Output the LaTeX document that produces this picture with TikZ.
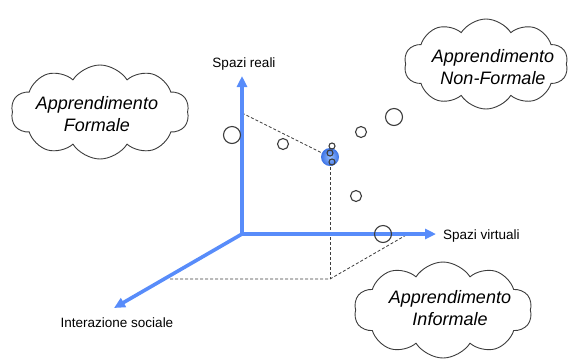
\documentclass[tikz,border=0pt]{standalone}
\usepackage{fontspec}
\setmainfont{Liberation Sans}
\usetikzlibrary{shapes.symbols,arrows.meta}
\definecolor{axisblue}{RGB}{88,140,250}
\definecolor{ballblue}{RGB}{60,115,230}
\definecolor{balllight}{RGB}{150,190,255}
\definecolor{linegray}{RGB}{60,60,60}
\tikzset{
  axis/.style={draw=axisblue,line width=3.6pt,-{Triangle[length=11pt,width=10pt]}},
  guide/.style={draw=linegray,line width=0.8pt,dash pattern=on 3pt off 2pt},
  bubble/.style={draw=linegray,line width=1.1pt,fill=white},
  thought/.style={cloud,draw=linegray,line width=0.9pt,fill=white,cloud puffs=10,cloud puff arc=115,
    cloud ignores aspect,align=center,inner sep=0pt},
  cloudtext/.style={font=\fontsize{18}{22}\selectfont\itshape,align=center},
  axlabel/.style={font=\fontsize{13.5}{16}\selectfont,inner sep=0pt}
}
\begin{document}
\begin{tikzpicture}[x=1pt,y=-1pt]
\useasboundingbox (0,0) rectangle (569,360);
% clouds
\node[thought,minimum width=178pt,minimum height=94pt] (formale) at (100,112) {};
\node[cloudtext] (tformale) at (97,114) {Apprendimento\\Formale};
\node[thought,minimum width=164pt,minimum height=90pt] (nonformale) at (486,64) {};
\node[cloudtext] (tnonformale) at (493,67) {Apprendimento\\Non-Formale};
\node[thought,minimum width=178pt,minimum height=96pt] (informale) at (443,310) {};
\node[cloudtext] (tinformale) at (450,308) {Apprendimento\\Informale};
% axes coordinates
\coordinate (O) at (242,234);
\coordinate (Y) at (242,76);
\coordinate (X) at (436,234);
\coordinate (Z) at (114,308);
\coordinate (P) at (330,157);
\coordinate (Py) at (242,113);
\coordinate (Pb) at (330,279);
\coordinate (Pz) at (170,279);
\coordinate (Px) at (408,234);
% guides
\draw[guide] (Py) -- (P);
\draw[guide] (P) -- (Pb);
\draw[guide] (Pz) -- (Pb) -- (Px);
% axes
\draw[axis] (O) -- (Y);
\draw[axis] (O) -- (X);
\draw[axis] (O) -- (Z);
% axis labels
\node[axlabel] (ly) at (244,64) {Spazi reali};
\node[axlabel,anchor=west] (lx) at (443,236) {Spazi virtuali};
\node[axlabel] (lz) at (117,323) {Interazione sociale};
% bubbles
\node[bubble,circle,minimum size=17pt,inner sep=0pt] (c1) at (232,135) {};
\node[bubble,circle,minimum size=11pt,inner sep=0pt] (c2) at (283,144) {};
\node[circle,inner color=balllight,outer color=ballblue,minimum size=18pt,inner sep=0pt] (ball) at (P) {};
\node[bubble,circle,minimum size=6pt,inner sep=0pt,fill=none] (s1) at (332,146) {};
\node[bubble,circle,minimum size=6pt,inner sep=0pt,fill=none] (s2) at (330,153) {};
\node[bubble,circle,minimum size=6pt,inner sep=0pt,fill=none] (s3) at (332,162) {};
\node[bubble,circle,minimum size=11pt,inner sep=0pt] (c3) at (361,132) {};
\node[bubble,circle,minimum size=17pt,inner sep=0pt] (c4) at (394,117) {};
\node[bubble,circle,minimum size=11pt,inner sep=0pt] (c5) at (356,196) {};
\node[bubble,circle,minimum size=17pt,inner sep=0pt,fill=none] (c6) at (383,234) {};
\end{tikzpicture}
\end{document}
